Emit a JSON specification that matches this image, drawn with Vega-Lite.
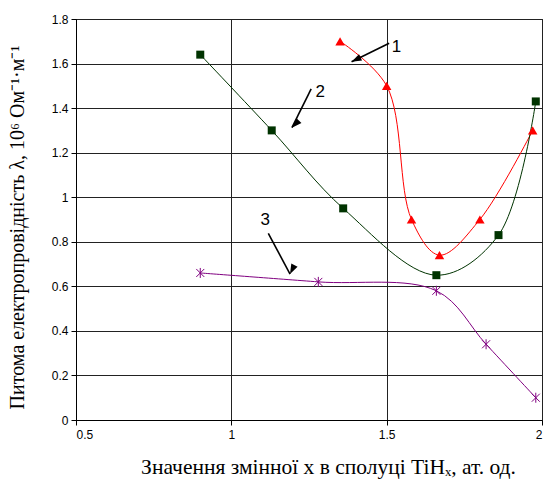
{
  "$schema": "https://vega.github.io/schema/vega-lite/v6.json",
  "width": 466,
  "height": 401,
  "autosize": "none",
  "padding": {"left": 76, "top": 19, "right": 6, "bottom": 64},
  "background": "white",
  "config": {
    "view": {"stroke": "black", "strokeWidth": 1},
    "axis": {
      "domainColor": "black",
      "tickColor": "black",
      "tickSize": 5,
      "gridColor": "#222222",
      "gridOpacity": 1,
      "gridWidth": 1,
      "labelFont": "Liberation Sans",
      "labelFontSize": 12,
      "labelColor": "black",
      "titleFont": "Liberation Serif",
      "titleFontSize": 20,
      "titleFontWeight": "normal",
      "titleColor": "black"
    }
  },
  "datasets": {
    "curves": [
      {"series": "1", "x": 1.35, "y": 1.70},
      {"series": "1", "x": 1.50, "y": 1.50},
      {"series": "1", "x": 1.58, "y": 0.90},
      {"series": "1", "x": 1.67, "y": 0.74},
      {"series": "1", "x": 1.80, "y": 0.90},
      {"series": "1", "x": 1.97, "y": 1.30},
      {"series": "2", "x": 0.90, "y": 1.64},
      {"series": "2", "x": 1.13, "y": 1.30},
      {"series": "2", "x": 1.36, "y": 0.95},
      {"series": "2", "x": 1.66, "y": 0.65},
      {"series": "2", "x": 1.86, "y": 0.83},
      {"series": "2", "x": 1.98, "y": 1.43},
      {"series": "3", "x": 0.90, "y": 0.66},
      {"series": "3", "x": 1.28, "y": 0.62},
      {"series": "3", "x": 1.66, "y": 0.58},
      {"series": "3", "x": 1.82, "y": 0.34},
      {"series": "3", "x": 1.98, "y": 0.10}
    ],
    "arrows": [
      {"label": "1", "lx": 1.532, "ly": 1.673, "x": 1.508, "y": 1.691, "x2": 1.387, "y2": 1.608},
      {"label": "2", "lx": 1.286, "ly": 1.474, "x": 1.257, "y": 1.486, "x2": 1.195, "y2": 1.312},
      {"label": "3", "lx": 1.109, "ly": 0.898, "x": 1.119, "y": 0.838, "x2": 1.189, "y2": 0.655}
    ]
  },
  "layer": [
    {
      "data": {"name": "curves"},
      "mark": {"type": "line", "interpolate": "catmull-rom", "strokeWidth": 1},
      "encoding": {
        "x": {
          "field": "x", "type": "quantitative",
          "scale": {"domain": [0.5, 2], "nice": false, "zero": false},
          "axis": {
            "values": [0.5, 1, 1.5, 2],
            "format": "~g",
            "labelPadding": 4,
            "title": "Значення змінної x в сполуці TiHₓ, ат. од.",
            "titleFontSize": 21.5,
            "titleX": 252,
            "titleY": 53,
            "titleAnchor": "middle",
            "titleAlign": "center",
            "titleBaseline": "alphabetic"
          }
        },
        "y": {
          "field": "y", "type": "quantitative",
          "scale": {"domain": [0, 1.8], "nice": false, "zero": true},
          "axis": {
            "values": [0, 0.2, 0.4, 0.6, 0.8, 1, 1.2, 1.4, 1.6, 1.8],
            "format": "~g",
            "labelPadding": 3,
            "title": "Питома електропровідність λ, 10⁶ Ом⁻¹·м⁻¹",
            "titleX": -59,
            "titleY": 208,
            "titleAngle": -90,
            "titleAlign": "center",
            "titleBaseline": "middle"
          }
        },
        "color": {
          "field": "series", "type": "nominal",
          "scale": {"domain": ["1", "2", "3"], "range": ["#ff0000", "#003300", "#800080"]},
          "legend": null
        }
      }
    },
    {
      "data": {"name": "curves"},
      "transform": [{"filter": "datum.series == '1'"}],
      "mark": {"type": "point", "shape": "triangle-up", "filled": true, "color": "#ff0000", "size": 90, "opacity": 1},
      "encoding": {
        "x": {"field": "x", "type": "quantitative"},
        "y": {"field": "y", "type": "quantitative"}
      }
    },
    {
      "data": {"name": "curves"},
      "transform": [{"filter": "datum.series == '2'"}],
      "mark": {"type": "point", "shape": "square", "filled": true, "color": "#003300", "size": 64, "opacity": 1},
      "encoding": {
        "x": {"field": "x", "type": "quantitative"},
        "y": {"field": "y", "type": "quantitative"}
      }
    },
    {
      "data": {"name": "curves"},
      "transform": [{"filter": "datum.series == '3'"}],
      "mark": {"type": "point", "shape": "M0,-1L0,1M-0.8,-0.8L0.8,0.8M-0.8,0.8L0.8,-0.8", "filled": false, "color": "#800080", "size": 100, "strokeWidth": 1, "opacity": 1},
      "encoding": {
        "x": {"field": "x", "type": "quantitative"},
        "y": {"field": "y", "type": "quantitative"}
      }
    },
    {
      "data": {"name": "arrows"},
      "mark": {"type": "rule", "color": "black", "strokeWidth": 1.6},
      "encoding": {
        "x": {"field": "x", "type": "quantitative"},
        "y": {"field": "y", "type": "quantitative"},
        "x2": {"field": "x2"},
        "y2": {"field": "y2"}
      }
    },
    {
      "data": {"name": "arrows"},
      "mark": {"type": "point", "shape": "M0,0L-0.35,1L0.35,1Z", "filled": true, "color": "black", "size": 400, "opacity": 1},
      "encoding": {
        "x": {"field": "x2", "type": "quantitative"},
        "y": {"field": "y2", "type": "quantitative"},
        "angle": {
          "field": "label", "type": "nominal",
          "scale": {"domain": ["1", "2", "3"], "range": [244, 206, 152]},
          "legend": null
        }
      }
    },
    {
      "data": {"name": "arrows"},
      "mark": {"type": "text", "font": "Liberation Sans", "fontSize": 17, "color": "black", "align": "center", "baseline": "middle"},
      "encoding": {
        "x": {"field": "lx", "type": "quantitative"},
        "y": {"field": "ly", "type": "quantitative"},
        "text": {"field": "label"}
      }
    }
  ]
}
